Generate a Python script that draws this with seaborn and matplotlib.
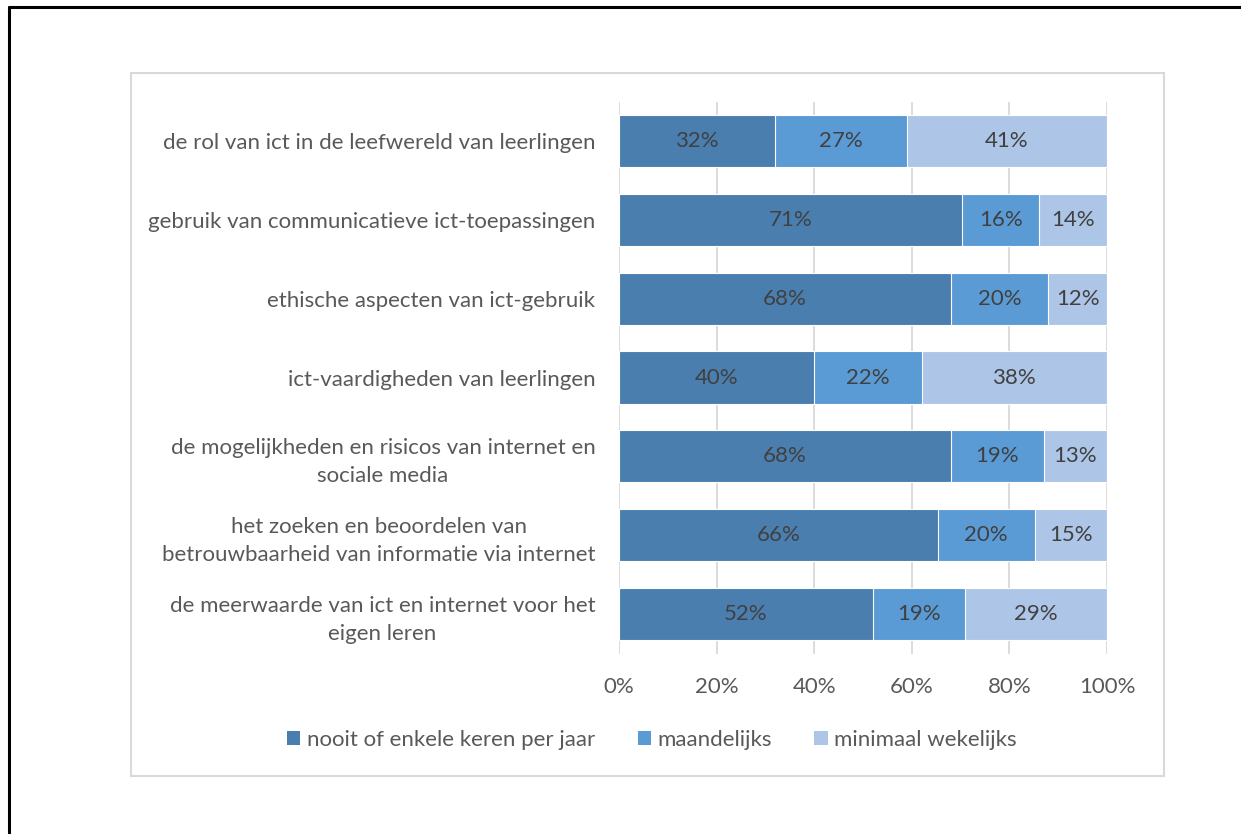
import numpy as np
import pandas as pd
import matplotlib
matplotlib.use("Agg")
import matplotlib.pyplot as plt
from matplotlib.lines import Line2D
from matplotlib.patches import Rectangle, Patch
import seaborn as sns

# ----------------------------------------------------------
# DATA
# ----------------------------------------------------------

categories = [
    "de rol van ict in de leefwereld van leerlingen",
    "gebruik van communicatieve ict-toepassingen",
    "ethische aspecten van ict-gebruik",
    "ict-vaardigheden van leerlingen",
    "de mogelijkheden en risicos van internet en\nsociale media",
    "het zoeken en beoordelen van\nbetrouwbaarheid van informatie via internet",
    "de meerwaarde van ict en internet voor het\neigen leren",
]

series_names = ["nooit of enkele keren per jaar", "maandelijks", "minimaal wekelijks"]

nooit = [32, 71, 68, 40, 68, 66, 52]
maandelijks = [27, 16, 20, 22, 19, 20, 19]
wekelijks = [41, 14, 12, 38, 13, 15, 29]

tick_values = [0, 20, 40, 60, 80, 100]
tick_labels = ["0%", "20%", "40%", "60%", "80%", "100%"]

colors = ["#4A7EAF", "#5B9BD5", "#ADC5E6"]

# ----------------------------------------------------------
# PREP (100% stacked)
# ----------------------------------------------------------

df = pd.DataFrame({
    "cat": categories,
    series_names[0]: nooit,
    series_names[1]: maandelijks,
    series_names[2]: wekelijks,
})
vals = df[series_names].to_numpy(dtype=float)
shares = vals / vals.sum(axis=1, keepdims=True) * 100
cum = np.cumsum(shares, axis=1)

# ----------------------------------------------------------
# PLOT
# ----------------------------------------------------------

sns.set_style("white")
plt.rcParams["font.family"] = ["Lato", "DejaVu Sans"]
fs = 16

fig = plt.figure(figsize=(12.41, 8.34), dpi=100)
ax = fig.add_axes([619 / 1241, 180.5 / 834, 488 / 1241, 552 / 834])

# draw from the back: total first, then shorter stacks on top
for i in reversed(range(3)):
    sns.barplot(
        x=cum[:, i],
        y=df["cat"],
        orient="h",
        color=colors[i],
        saturation=1,
        width=0.66,
        edgecolor="white",
        linewidth=0.8,
        ax=ax,
        zorder=2,
    )

# segment labels
for r in range(len(categories)):
    left = 0
    for i in range(3):
        ax.text(left + shares[r, i] / 2, r, f"{vals[r, i]:.0f}%",
                ha="center", va="center", fontsize=fs, color="#404040", zorder=3)
        left = cum[r, i]

ax.set_xlim(0, 100)
ax.set_ylim(len(categories) - 0.5, -0.5)
ax.set_xticks(tick_values)
ax.set_xticklabels(tick_labels)
ax.set_xlabel("")
ax.set_ylabel("")
ax.grid(axis="x", color="#D9D9D9", linewidth=1.3, zorder=0)
ax.set_axisbelow(True)
for s in ax.spines.values():
    s.set_visible(False)
ax.tick_params(axis="x", length=0, pad=17, labelsize=fs, labelcolor="#595959")
ax.tick_params(axis="y", length=0, pad=17, labelsize=fs, labelcolor="#595959")
for lab in ax.get_yticklabels():
    lab.set_multialignment("center")
    lab.set_linespacing(1.5)

handles = [Patch(facecolor=c, edgecolor="none") for c in colors]
fig.legend(
    handles, series_names,
    loc="center", bbox_to_anchor=(652 / 1241, 1 - 740 / 834),
    ncol=3, frameon=False, fontsize=fs,
    handlelength=0.6, handleheight=0.6, handletextpad=0.3,
    columnspacing=1.9, labelcolor="#595959",
)

# chart area border (light gray)
fig.add_artist(Rectangle((131 / 1241, 1 - 776 / 834), (1164 - 131) / 1241, (776 - 73) / 834,
                         transform=fig.transFigure, fill=False,
                         edgecolor="#D9D9D9", linewidth=1.5))

# outer black frame (document table border)
fig.add_artist(Line2D([9 / 1241, 9 / 1241], [0, 1 - 7 / 834],
                      transform=fig.transFigure, color="black", linewidth=2.2))
fig.add_artist(Line2D([9 / 1241, 1], [1 - 7 / 834, 1 - 7 / 834],
                      transform=fig.transFigure, color="black", linewidth=2.2))

fig.savefig("out.png", dpi=100, facecolor="white")
